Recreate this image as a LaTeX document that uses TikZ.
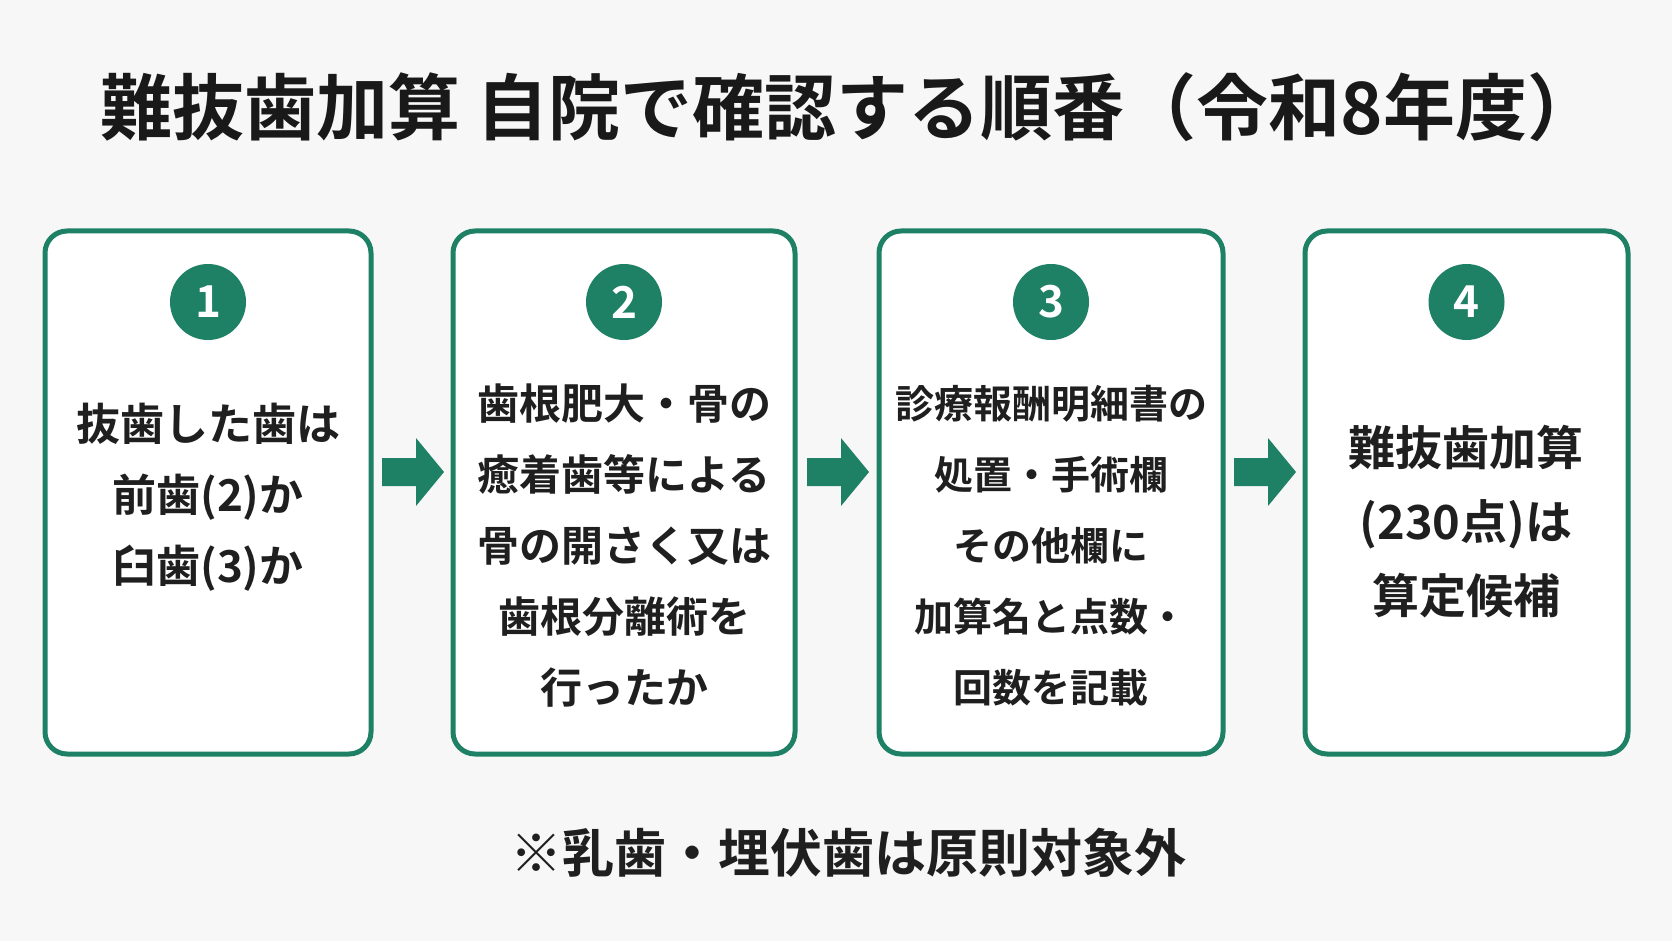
\documentclass[tikz,border=0pt]{standalone}
\usepackage{fontspec}
\setmainfont{Noto Sans CJK JP}[BoldFont={* Bold}]
\definecolor{grn}{HTML}{1E8064}
\begin{document}
\begin{tikzpicture}[x=1pt,y=-1pt,
 box/.style={draw=grn,line width=5pt,rounded corners=22pt,fill=white},
 num/.style={circle,fill=grn,minimum size=76pt,inner sep=0pt,text=white,font=\fontsize{44}{44}\bfseries},
 txt/.style={align=center,font=\fontsize{44}{71}\selectfont\bfseries,text=black!88},
 arr/.style={fill=grn,draw=none}]
\useasboundingbox[fill=white!97!black] (0,0) rectangle (1672,941);
\node[font=\fontsize{72}{72}\selectfont\bfseries,text=black!90] (title) at (850,107) {難抜歯加算 自院で確認する順番（令和8年度）};
\foreach \i/\l/\r in {1/45/371,2/453/795,3/879/1223,4/1305/1628}{
 \draw[box] (\l,231) rectangle (\r,754);
 \node[num] (n\i) at ({(\l+\r)/2},302) {\i};
}
\node[txt] (t1) at (208,497) {抜歯した歯は\\前歯(2)か\\臼歯(3)か};
\node[txt,font=\fontsize{42}{71}\selectfont\bfseries] (t2) at (624,546) {歯根肥大・骨の\\癒着歯等による\\骨の開さく又は\\歯根分離術を\\行ったか};
\node[txt,font=\fontsize{39}{71}\selectfont\bfseries] (t3) at (1051,546) {診療報酬明細書の\\処置・手術欄\\その他欄に\\加算名と点数・\\回数を記載};
\node[txt,font=\fontsize{47}{74}\selectfont\bfseries] (t4) at (1466,522) {難抜歯加算\\(230点)は\\算定候補};
\foreach \x in {382,807,1234}{
 \fill[arr] (\x,458) -- (\x+34,458) -- (\x+34,438) -- (\x+62,472) -- (\x+34,506) -- (\x+34,486) -- (\x,486) -- cycle;
}
\node[font=\fontsize{52}{52}\selectfont\bfseries,text=black!88] (foot) at (848,853) {※乳歯・埋伏歯は原則対象外};
\end{tikzpicture}
\end{document}
